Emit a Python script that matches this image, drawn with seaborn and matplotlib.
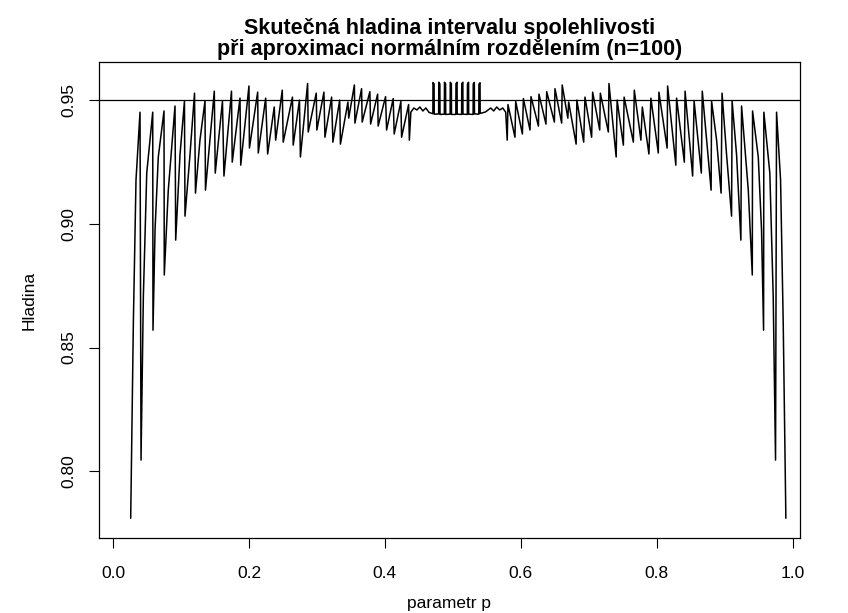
import matplotlib
matplotlib.use("Agg")
import matplotlib.pyplot as plt
import seaborn as sns
import pandas as pd

# ---- data (vertices of the coverage polyline) ----
p_left = [0.0260, 0.0299, 0.0338, 0.0397, 0.0412, 0.0446, 0.0496, 0.0584, 0.0588, 0.0618,
          0.0666, 0.0750, 0.0754, 0.0813, 0.0912, 0.0922, 0.0985, 0.1051, 0.1059, 0.1132,
          0.1199, 0.1213, 0.1279, 0.1353, 0.1360, 0.1426, 0.1490, 0.1504, 0.1610, 0.1632,
          0.1743, 0.1754, 0.1868, 0.1879, 0.2000, 0.2007, 0.2128, 0.2137, 0.2246, 0.2275,
          0.2372, 0.2393, 0.2490, 0.2504, 0.2640, 0.2651, 0.2743, 0.2757, 0.2863, 0.2872,
          0.2990, 0.2999, 0.3103, 0.3118, 0.3216, 0.3235, 0.3335, 0.3346, 0.3456, 0.3468,
          0.3551, 0.3559, 0.3657, 0.3666, 0.3779, 0.3790, 0.3893, 0.3901, 0.4010, 0.4025,
          0.4122, 0.4137, 0.4235, 0.4246, 0.4349, 0.4360, 0.4382, 0.4426, 0.4471, 0.4515,
          0.4559, 0.4603, 0.4650]
cov_left = [0.7810, 0.8599, 0.9177, 0.9451, 0.8045, 0.8704, 0.9205, 0.9451, 0.8570, 0.8975,
            0.9270, 0.9456, 0.8793, 0.9136, 0.9476, 0.8934, 0.9278, 0.9496, 0.9031, 0.9278,
            0.9528, 0.9124, 0.9338, 0.9496, 0.9136, 0.9338, 0.9536, 0.9205, 0.9496, 0.9193,
            0.9536, 0.9249, 0.9508, 0.9237, 0.9557, 0.9306, 0.9532, 0.9286, 0.9508, 0.9282,
            0.9472, 0.9338, 0.9540, 0.9330, 0.9512, 0.9318, 0.9500, 0.9270, 0.9567, 0.9371,
            0.9528, 0.9379, 0.9532, 0.9350, 0.9512, 0.9330, 0.9500, 0.9322, 0.9492, 0.9427,
            0.9561, 0.9407, 0.9546, 0.9411, 0.9534, 0.9403, 0.9524, 0.9395, 0.9514, 0.9379,
            0.9506, 0.9363, 0.9494, 0.9350, 0.9482, 0.9338, 0.9451, 0.9468, 0.9460, 0.9472,
            0.9456, 0.9468, 0.9450]

p_mid = [0.4706, 0.4708, 0.4724, 0.4726, 0.4791, 0.4793, 0.4809, 0.4811,
         0.4875, 0.4877, 0.4893, 0.4895, 0.4960, 0.4962, 0.4978, 0.4980,
         0.5044, 0.5046, 0.5062, 0.5064, 0.5129, 0.5131, 0.5147, 0.5149,
         0.5213, 0.5215, 0.5231, 0.5233, 0.5298, 0.5300, 0.5316, 0.5318,
         0.5382, 0.5384, 0.5400, 0.5402]
cov_mid = [0.9445, 0.9571, 0.9565, 0.9443, 0.9444, 0.9572, 0.9565, 0.9442,
           0.9443, 0.9572, 0.9566, 0.9442, 0.9443, 0.9572, 0.9566, 0.9442,
           0.9442, 0.9566, 0.9572, 0.9443, 0.9442, 0.9566, 0.9572, 0.9443,
           0.9442, 0.9565, 0.9572, 0.9443, 0.9442, 0.9565, 0.9571, 0.9444,
           0.9443, 0.9564, 0.9570, 0.9446]

p_right = [0.5480, 0.5557, 0.5601, 0.5645, 0.5689, 0.5734, 0.5778, 0.5800, 0.5811, 0.5914,
           0.5925, 0.6023, 0.6038, 0.6135, 0.6150, 0.6259, 0.6267, 0.6370, 0.6381, 0.6494,
           0.6503, 0.6601, 0.6609, 0.6692, 0.6704, 0.6814, 0.6825, 0.6925, 0.6944, 0.7042,
           0.7057, 0.7161, 0.7170, 0.7288, 0.7297, 0.7403, 0.7417, 0.7509, 0.7520, 0.7656,
           0.7670, 0.7767, 0.7788, 0.7885, 0.7914, 0.8023, 0.8032, 0.8153, 0.8160, 0.8281,
           0.8292, 0.8406, 0.8417, 0.8528, 0.8550, 0.8656, 0.8670, 0.8734, 0.8800, 0.8807,
           0.8881, 0.8947, 0.8961, 0.9028, 0.9101, 0.9109, 0.9175, 0.9238, 0.9248, 0.9347,
           0.9406, 0.9410, 0.9494, 0.9542, 0.9572, 0.9576, 0.9664, 0.9714, 0.9748, 0.9763,
           0.9822, 0.9861, 0.9900]
cov_right = [0.9452, 0.9468, 0.9456, 0.9472, 0.9460, 0.9468, 0.9451, 0.9338, 0.9482, 0.9350,
             0.9494, 0.9363, 0.9506, 0.9379, 0.9514, 0.9395, 0.9524, 0.9403, 0.9534, 0.9411,
             0.9546, 0.9407, 0.9561, 0.9427, 0.9492, 0.9322, 0.9500, 0.9330, 0.9512, 0.9350,
             0.9532, 0.9379, 0.9528, 0.9371, 0.9567, 0.9270, 0.9500, 0.9318, 0.9512, 0.9330,
             0.9540, 0.9338, 0.9472, 0.9282, 0.9508, 0.9286, 0.9532, 0.9306, 0.9557, 0.9237,
             0.9508, 0.9249, 0.9536, 0.9193, 0.9496, 0.9205, 0.9536, 0.9338, 0.9136, 0.9496,
             0.9338, 0.9124, 0.9528, 0.9278, 0.9031, 0.9496, 0.9278, 0.8934, 0.9476, 0.9136,
             0.8793, 0.9456, 0.9270, 0.8975, 0.8570, 0.9451, 0.9205, 0.8704, 0.8045, 0.9451,
             0.9177, 0.8599, 0.7810]

nominal_level = 0.95
x_ticks = [0.0, 0.2, 0.4, 0.6, 0.8, 1.0]
y_ticks = [0.80, 0.85, 0.90, 0.95]
title = "Skutečná hladina intervalu spolehlivosti\npři aproximaci normálním rozdělením (n=100)"
x_label = "parametr p"
y_label = "Hladina"

# ---- build table ----
df = pd.DataFrame({
    "p": p_left + p_mid + p_right,
    "hladina": cov_left + cov_mid + cov_right,
})

sns.set_style("ticks")
plt.rcParams["font.family"] = ["Liberation Sans", "DejaVu Sans"]

fig = plt.figure(figsize=(8.48, 6.13), dpi=100)
ax = fig.add_axes([0.1163, 0.1223, 0.8267, 0.7766])

sns.lineplot(data=df, x="p", y="hladina", sort=False, estimator=None,
             color="black", linewidth=1.1, ax=ax)
ax.axhline(nominal_level, color="black", linewidth=0.9)

ax.set_xlim(-0.0212, 1.0103)
ax.set_ylim(0.7730, 0.9654)
ax.set_xticks(x_ticks)
ax.set_xticklabels([f"{t:.1f}" for t in x_ticks])
ax.set_yticks(y_ticks)
ax.set_yticklabels([f"{t:.2f}" for t in y_ticks], rotation=90, va="center")
ax.tick_params(direction="out", length=7, width=0.8, labelsize=12.5, colors="black")
ax.tick_params(axis="x", pad=13)
ax.tick_params(axis="y", pad=9)
for s in ax.spines.values():
    s.set_visible(True)
    s.set_linewidth(0.9)
    s.set_color("black")

ax.set_xlabel(x_label, fontsize=12.5, labelpad=11, color="black")
ax.set_ylabel(y_label, fontsize=12.5, labelpad=18, color="black")
ax.set_title(title, fontsize=15.5, fontweight="bold", pad=5, linespacing=1.0, color="black")

fig.savefig("out.png", dpi=100)
